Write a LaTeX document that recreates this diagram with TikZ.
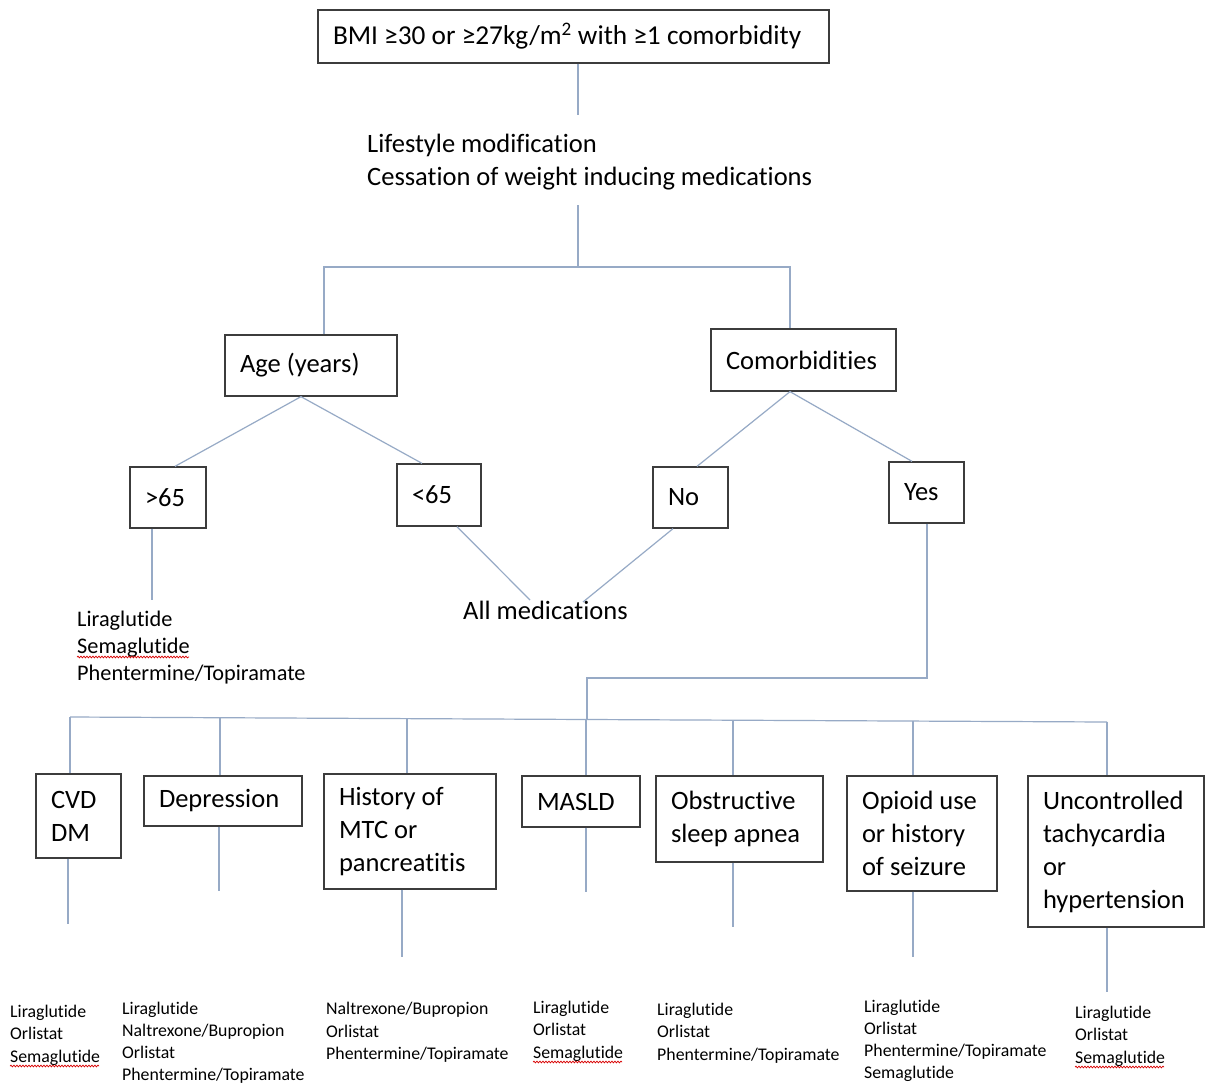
\documentclass[tikz,border=0pt]{standalone}
\usepackage{fontspec}
\setmainfont{Carlito}[Ligatures=NoCommon]
\usetikzlibrary{decorations.pathmorphing}
\definecolor{linkblue}{HTML}{97AAC6}
\definecolor{boxgray}{HTML}{3C3C3C}
\newcommand\bigtext{\fontsize{26.5}{33}\selectfont}
\newcommand\headtext{\fontsize{27.3}{33}\selectfont}
\newcommand\midtext{\fontsize{22.3}{27}\selectfont}
\newcommand\smalltext{\fontsize{17.8}{22.5}\selectfont}
\newcommand\tighttext{\fontsize{17.8}{22}\selectfont}
\begin{document}
\begin{tikzpicture}[x=1pt,y=-1pt,
  box/.style={draw=boxgray, line width=1.3pt, inner xsep=15pt, inner ysep=2pt,
              align=flush left, font=\bigtext},
  link/.style={draw=linkblue, line width=1.2pt},
  note/.style={anchor=north west, inner sep=0pt, align=flush left},
  squiggle/.style={draw=red!85!black, line width=0.7pt, decorate,
                   decoration={snake, amplitude=0.9pt, segment length=3pt}},
]
\fill[white] (0,0) rectangle (1208,1084);
\useasboundingbox (0,0) rectangle (1208,1084);

% ---- top of the tree
\node[box, font=\headtext, text width=481pt, minimum height=53pt] (top) at (573.5,36.5)
  {BMI ≥30 or ≥27kg/m\textsuperscript{2} with ≥1 comorbidity};
\node[note, font=\bigtext] (life) at (367,125.5)
  {\rule{0pt}{26.5pt}Lifestyle modification\\Cessation of weight inducing medications};

\node[box, text width=142pt, minimum height=61pt] (age) at (311,365.5) {Age (years)};
\node[box, text width=155pt, minimum height=62pt] (comorb) at (803.5,360) {Comorbidities};

\node[box, text width=46pt, minimum height=61pt] (gt) at (168,497.5) {>65};
\node[box, text width=54pt, minimum height=62pt] (lt) at (439,495) {<65};
\node[box, text width=45pt, minimum height=61pt] (no) at (690.5,497.5) {No};
\node[box, text width=45pt, minimum height=61pt] (yes) at (926.5,492.5) {Yes};

\node[note, font=\bigtext] (allmeds) at (463,592.5) {\rule{0pt}{26.5pt}All medications};
\node[note, font=\midtext] (oldlist) at (77,603.7)
  {\rule{0pt}{22.3pt}Liraglutide\\Semaglutide\\Phentermine/Topiramate};

% ---- comorbidity boxes
\node[box, text width=55pt,  minimum height=84pt]  (cvd)    at (78.5,816)   {CVD\\DM};
\node[box, text width=128pt, minimum height=50pt]  (dep)    at (223,801)    {Depression};
\node[box, text width=142pt, minimum height=115pt] (hist)   at (410,831.5)  {History of\\MTC or\\pancreatitis};
\node[box, text width=88pt,  minimum height=51pt]  (masld)  at (581,801.5)  {MASLD};
\node[box, text width=137pt, minimum height=86pt]  (osa)    at (739.5,819)  {Obstructive\\sleep apnea};
\node[box, text width=120pt, minimum height=115pt] (opioid) at (922,833.5)  {Opioid use\\or history\\of seizure};
\node[box, text width=146pt, minimum height=151pt] (unc)    at (1116,851.5) {Uncontrolled\\tachycardia\\or\\hypertension};

% ---- medication lists
\node[note, font=\smalltext] (m1) at (10,999.2)
  {\rule{0pt}{17.8pt}Liraglutide\\Orlistat\\Semaglutide};
\node[note, font=\tighttext] (m2) at (122,996.2)
  {\rule{0pt}{17.8pt}Liraglutide\\Naltrexone/Bupropion\\Orlistat\\Phentermine/Topiramate};
\node[note, font=\smalltext] (m3) at (326,996.7)
  {\rule{0pt}{17.8pt}Naltrexone/Bupropion\\Orlistat\\Phentermine/Topiramate};
\node[note, font=\smalltext] (m4) at (533,995.2)
  {\rule{0pt}{17.8pt}Liraglutide\\Orlistat\\Semaglutide};
\node[note, font=\smalltext] (m5) at (657,997.2)
  {\rule{0pt}{17.8pt}Liraglutide\\Orlistat\\Phentermine/Topiramate};
\node[note, font=\tighttext] (m6) at (864,994.2)
  {\rule{0pt}{17.8pt}Liraglutide\\Orlistat\\Phentermine/Topiramate\\Semaglutide};
\node[note, font=\smalltext] (m7) at (1075,1000.2)
  {\rule{0pt}{17.8pt}Liraglutide\\Orlistat\\Semaglutide};

% ---- spell-check marks
\draw[squiggle] (77,657) -- (189,657);
\draw[squiggle] (10,1066) -- (99,1066);
\draw[squiggle] (533,1062) -- (622,1062);
\draw[squiggle] (1075,1067) -- (1164,1067);

% ---- connectors
\coordinate (lifeTop) at (578,115);
\coordinate (lifeBot) at (578,205);
\coordinate (split) at (578,267);
\draw[link] (578,0 |- top.south) -- (lifeTop);
\draw[link] (lifeBot) -- (split);
\draw[link] (324,0 |- age.north) -- (324,267) -- (790,267) -- (790,0 |- comorb.north);

\draw[link] (175,0 |- gt.north) -- (301,0 |- age.south) -- (422,0 |- lt.north);
\draw[link] (697,0 |- no.north) -- (790,0 |- comorb.south) -- (912,0 |- yes.north);

\coordinate (allL) at (530,600);
\coordinate (allR) at (583,602);
\draw[link] (457,0 |- lt.south) -- (allL);
\draw[link] (673,0 |- no.south) -- (allR);
\coordinate (oldTop) at (152,600);
\draw[link] (152,0 |- gt.south) -- (oldTop);

\coordinate (busL) at (70,717);
\coordinate (busR) at (1107,722);
\draw[link] (927,0 |- yes.south) -- (927,678) -- (587,678) -- (587,719.5);
\draw[link] (busL) -- (busR);
\draw[link] (busL) -- (70,0 |- cvd.north);
\draw[link] (220,717.7) -- (220,0 |- dep.north);
\draw[link] (407,718.6) -- (407,0 |- hist.north);
\draw[link] (586,719.5) -- (586,0 |- masld.north);
\draw[link] (733,720.2) -- (733,0 |- osa.north);
\draw[link] (913,721.1) -- (913,0 |- opioid.north);
\draw[link] (busR) -- (1107,0 |- unc.north);

% stems below the comorbidity boxes
\coordinate (e1) at (68,924);
\coordinate (e2) at (219,891);
\coordinate (e3) at (402,957);
\coordinate (e4) at (586,892);
\coordinate (e5) at (733,927);
\coordinate (e6) at (913,957);
\coordinate (e7) at (1107,992);
\draw[link] (68,0 |- cvd.south) -- (e1);
\draw[link] (219,0 |- dep.south) -- (e2);
\draw[link] (402,0 |- hist.south) -- (e3);
\draw[link] (586,0 |- masld.south) -- (e4);
\draw[link] (733,0 |- osa.south) -- (e5);
\draw[link] (913,0 |- opioid.south) -- (e6);
\draw[link] (1107,0 |- unc.south) -- (e7);
\end{tikzpicture}
\end{document}
